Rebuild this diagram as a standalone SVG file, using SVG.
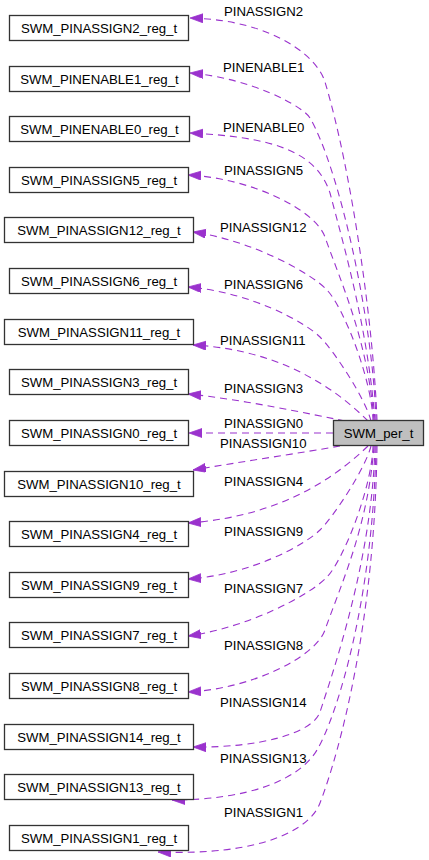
<svg xmlns="http://www.w3.org/2000/svg" width="429" height="860" viewBox="0 0 429 860">
<style>
.n rect{fill:#ffffff;stroke:#333333;stroke-width:1.3}
.n text,.lbl text{font-family:"Liberation Sans",Arial,sans-serif;font-size:13.2px;fill:#000}
.n text{text-anchor:middle}
.root rect{fill:#bfbfbf}
.e path{fill:none;stroke:#9a32cd;stroke-width:1.1;stroke-dasharray:7,5;marker-end:url(#ah)}
</style>
<defs>
<marker id="ah" markerUnits="userSpaceOnUse" markerWidth="14" markerHeight="10" refX="13" refY="4.5" orient="auto">
<path d="M0,0 L13,4.5 L0,9 z" fill="#9a32cd" stroke="#9a32cd" stroke-width="0.8" stroke-dasharray="none"/>
</marker>
</defs>
<rect width="429" height="860" fill="#ffffff"/>
<g id="edges" class="e">
<path d="M377,421 C374,330 352,172 325,82 C318,58 275,20 190,18"/>
<path d="M376,421 C373,320 339,168 310,118 C303,106 250,78 190,73"/>
<path d="M375,421 C368,330 345,250 330,193 C316,150 270,137 190,133"/>
<path d="M374,421 C368,340 341,283 325,237 C315,209 250,178 188,175"/>
<path d="M373,421 C372,380 344,308 327,290 C310,272 250,240 193,232"/>
<path d="M371,421 C366,400 335,352 320,337 C305,322 250,292 188,287"/>
<path d="M368,421 C345,398 290,350 193,345"/>
<path d="M345,421 C310,414 240,399 188,394"/>
<path d="M333,433 L189,433"/>
<path d="M340,446 C300,453 240,462 193,470"/>
<path d="M368,446 C345,468 290,516 188,523"/>
<path d="M371,446 C366,467 335,515 320,530 C305,545 250,575 188,579"/>
<path d="M373,446 C372,487 344,559 327,577 C310,595 250,627 188,636"/>
<path d="M374,446 C368,527 341,584 325,630 C315,658 250,689 188,692"/>
<path d="M375,446 C372,560 333,672 320,712 C313,733 260,748 193,747"/>
<path d="M376,446 C373,600 337,716 317,750 C300,779 250,800 172,800"/>
<path d="M377,446 C375,620 340,751 320,803 C310,830 260,856 158,852"/>
</g>
<g class="lbl">
<text x="224" y="16">PINASSIGN2</text>
<text x="223" y="72">PINENABLE1</text>
<text x="223" y="132">PINENABLE0</text>
<text x="224" y="175">PINASSIGN5</text>
<text x="220" y="232">PINASSIGN12</text>
<text x="224" y="289">PINASSIGN6</text>
<text x="220" y="345">PINASSIGN11</text>
<text x="224" y="393">PINASSIGN3</text>
<text x="224" y="428">PINASSIGN0</text>
<text x="220" y="448">PINASSIGN10</text>
<text x="224" y="486">PINASSIGN4</text>
<text x="224" y="536">PINASSIGN9</text>
<text x="224" y="593">PINASSIGN7</text>
<text x="224" y="650">PINASSIGN8</text>
<text x="220" y="707">PINASSIGN14</text>
<text x="220" y="763">PINASSIGN13</text>
<text x="224" y="817">PINASSIGN1</text>
</g>
<g id="SWM_per_t" class="n root"><rect x="333.5" y="420.5" width="90" height="25"/><text x="378.5" y="437.5">SWM_per_t</text></g>
<g id="SWM_PINASSIGN2_reg_t" class="n"><rect x="9.5" y="15.5" width="179" height="25"/><text x="99" y="32.5">SWM_PINASSIGN2_reg_t</text></g>
<g id="SWM_PINENABLE1_reg_t" class="n"><rect x="9.5" y="66.5" width="180" height="25"/><text x="99.5" y="83.5">SWM_PINENABLE1_reg_t</text></g>
<g id="SWM_PINENABLE0_reg_t" class="n"><rect x="9.5" y="116.5" width="180" height="25"/><text x="99.5" y="133.5">SWM_PINENABLE0_reg_t</text></g>
<g id="SWM_PINASSIGN5_reg_t" class="n"><rect x="9.5" y="167.5" width="179" height="25"/><text x="99" y="184.5">SWM_PINASSIGN5_reg_t</text></g>
<g id="SWM_PINASSIGN12_reg_t" class="n"><rect x="4.5" y="217.5" width="189" height="25"/><text x="99" y="234.5">SWM_PINASSIGN12_reg_t</text></g>
<g id="SWM_PINASSIGN6_reg_t" class="n"><rect x="9.5" y="268.5" width="179" height="25"/><text x="99" y="285.5">SWM_PINASSIGN6_reg_t</text></g>
<g id="SWM_PINASSIGN11_reg_t" class="n"><rect x="4.5" y="319.5" width="189" height="25"/><text x="99" y="336.5">SWM_PINASSIGN11_reg_t</text></g>
<g id="SWM_PINASSIGN3_reg_t" class="n"><rect x="9.5" y="369.5" width="179" height="25"/><text x="99" y="386.5">SWM_PINASSIGN3_reg_t</text></g>
<g id="SWM_PINASSIGN0_reg_t" class="n"><rect x="9.5" y="420.5" width="179" height="25"/><text x="99" y="437.5">SWM_PINASSIGN0_reg_t</text></g>
<g id="SWM_PINASSIGN10_reg_t" class="n"><rect x="4.5" y="471.5" width="189" height="25"/><text x="99" y="488.5">SWM_PINASSIGN10_reg_t</text></g>
<g id="SWM_PINASSIGN4_reg_t" class="n"><rect x="9.5" y="521.5" width="179" height="25"/><text x="99" y="538.5">SWM_PINASSIGN4_reg_t</text></g>
<g id="SWM_PINASSIGN9_reg_t" class="n"><rect x="9.5" y="572.5" width="179" height="25"/><text x="99" y="589.5">SWM_PINASSIGN9_reg_t</text></g>
<g id="SWM_PINASSIGN7_reg_t" class="n"><rect x="9.5" y="622.5" width="179" height="25"/><text x="99" y="639.5">SWM_PINASSIGN7_reg_t</text></g>
<g id="SWM_PINASSIGN8_reg_t" class="n"><rect x="9.5" y="673.5" width="179" height="25"/><text x="99" y="690.5">SWM_PINASSIGN8_reg_t</text></g>
<g id="SWM_PINASSIGN14_reg_t" class="n"><rect x="4.5" y="724.5" width="189" height="25"/><text x="99" y="741.5">SWM_PINASSIGN14_reg_t</text></g>
<g id="SWM_PINASSIGN13_reg_t" class="n"><rect x="4.5" y="774.5" width="189" height="25"/><text x="99" y="791.5">SWM_PINASSIGN13_reg_t</text></g>
<g id="SWM_PINASSIGN1_reg_t" class="n"><rect x="9.5" y="825.5" width="179" height="25"/><text x="99" y="842.5">SWM_PINASSIGN1_reg_t</text></g>
</svg>
